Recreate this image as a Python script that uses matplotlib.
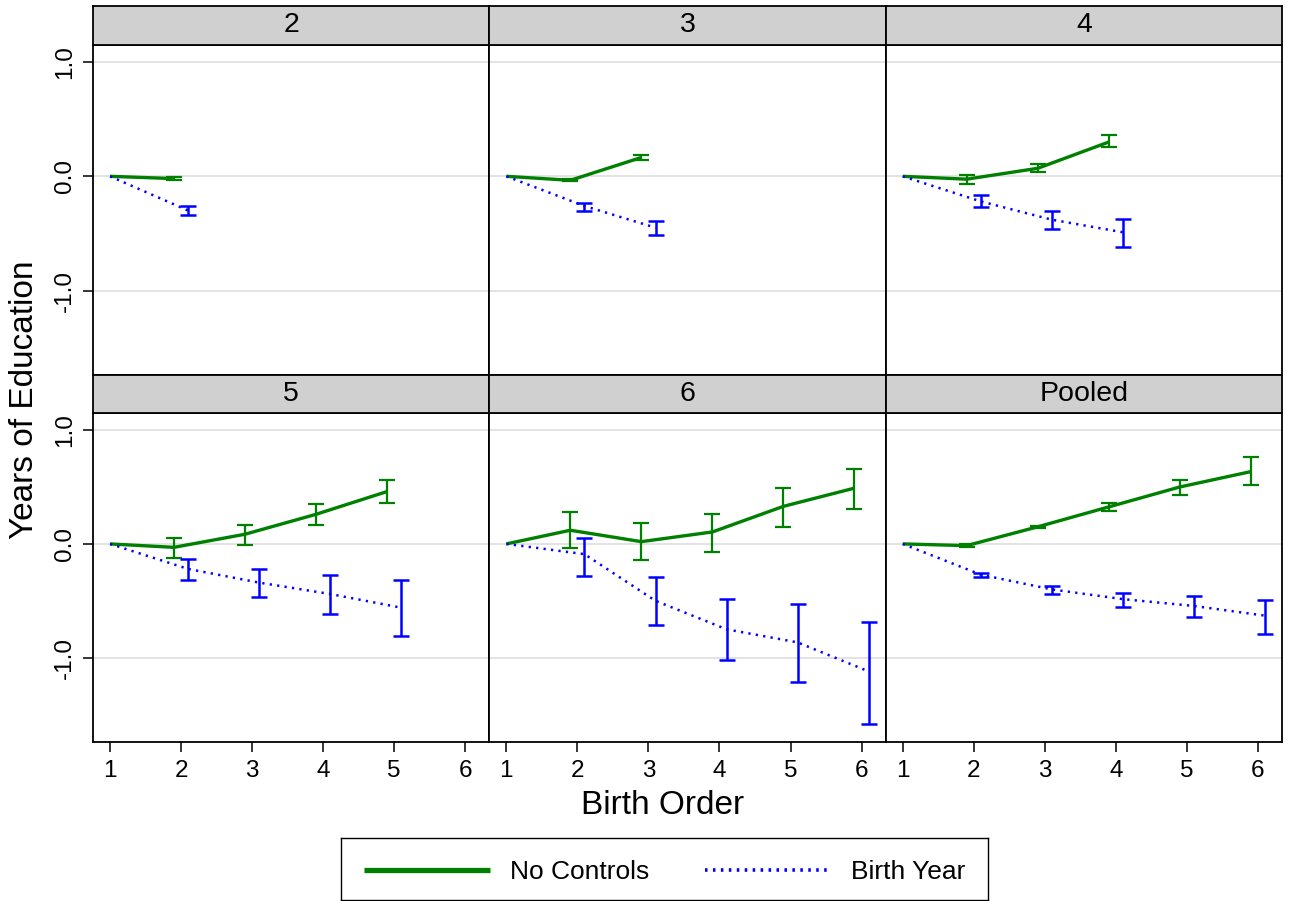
import matplotlib
matplotlib.use("Agg")
import matplotlib.pyplot as plt
from matplotlib.lines import Line2D

plt.rcParams['font.family'] = ['Liberation Sans', 'DejaVu Sans']

# ---------------- data ----------------
birth_order = [1, 2, 3, 4, 5, 6]
panel_titles = ["2", "3", "4", "5", "6", "Pooled"]
x_ticks = [1, 2, 3, 4, 5, 6]
y_ticks = [-1.0, 0.0, 1.0]
y_tick_labels = ["-1.0", "0.0", "1.0"]
series_labels = ["No Controls", "Birth Year"]

# No Controls (estimate, lower CI, upper CI)
nc_est = [
    [0, -0.02],
    [0, -0.035, 0.165],
    [0, -0.025, 0.07, 0.30],
    [0, -0.03, 0.085, 0.26, 0.46],
    [0, 0.12, 0.02, 0.105, 0.33, 0.49],
    [0, -0.015, 0.15, 0.325, 0.50, 0.635],
]
nc_lo = [
    [0, -0.03],
    [0, -0.045, 0.14],
    [0, -0.065, 0.035, 0.26],
    [0, -0.12, -0.01, 0.17, 0.36],
    [0, -0.04, -0.14, -0.07, 0.15, 0.31],
    [0, -0.025, 0.14, 0.29, 0.43, 0.515],
]
nc_hi = [
    [0, -0.01],
    [0, -0.025, 0.19],
    [0, 0.015, 0.11, 0.36],
    [0, 0.05, 0.17, 0.35, 0.56],
    [0, 0.28, 0.18, 0.26, 0.49, 0.66],
    [0, -0.005, 0.16, 0.36, 0.56, 0.76],
]
# Birth Year controls
by_est = [
    [0, -0.30],
    [0, -0.26, -0.45],
    [0, -0.22, -0.38, -0.49],
    [0, -0.22, -0.34, -0.44, -0.56],
    [0, -0.09, -0.50, -0.75, -0.865, -1.12],
    [0, -0.27, -0.40, -0.485, -0.545, -0.63],
]
by_lo = [
    [0, -0.34],
    [0, -0.30, -0.51],
    [0, -0.27, -0.46, -0.62],
    [0, -0.32, -0.47, -0.62, -0.81],
    [0, -0.28, -0.71, -1.02, -1.21, -1.58],
    [0, -0.29, -0.44, -0.55, -0.64, -0.79],
]
by_hi = [
    [0, -0.26],
    [0, -0.23, -0.39],
    [0, -0.165, -0.30, -0.375],
    [0, -0.13, -0.22, -0.27, -0.32],
    [0, 0.05, -0.29, -0.48, -0.53, -0.69],
    [0, -0.255, -0.37, -0.43, -0.46, -0.49],
]

# ---------------- style ----------------
W, H = 1290, 901
GREEN = "#008000"
BLUE = "#0000ff"
STRIP = "#d0d0d0"
GRID = "#e0e0e0"
OFFSET = 0.1
BLUE_DOTS = (0, (0.9, 2.1))

fig = plt.figure(figsize=(W / 100, H / 100), dpi=100)

col_edges = [93, 489.3, 885.7, 1282]
rows = [(6, 45, 375), (375, 413, 742)]  # strip top, plot top, plot bottom


def fr(x0, y0, x1, y1):
    return [x0 / W, 1 - y1 / H, (x1 - x0) / W, (y1 - y0) / H]


for i, title in enumerate(panel_titles):
    r, c = divmod(i, 3)
    st, pt, pb = rows[r]
    x0, x1 = col_edges[c], col_edges[c + 1]
    ax = fig.add_axes(fr(x0, pt, x1, pb))
    sax = fig.add_axes(fr(x0, st, x1, pt))

    # strip
    sax.set_facecolor(STRIP)
    sax.set_xticks([])
    sax.set_yticks([])
    for s in sax.spines.values():
        s.set_linewidth(1.3)
        s.set_color("black")
    sax.text(0.5, 0.5, title, ha="center", va="center", fontsize=20.5,
             transform=sax.transAxes)

    n = len(nc_est[i])
    xs = birth_order[:n]
    xg = [v if v == 1 else v - OFFSET for v in xs]
    xb = [v if v == 1 else v + OFFSET for v in xs]

    ax.set_xlim(0.76, 6.34)
    ax.set_ylim(-1.74, 1.15)
    for yv in y_ticks:
        ax.axhline(yv, color=GRID, lw=1.3, zorder=0)

    # No Controls
    ax.plot(xg, nc_est[i], color=GREEN, lw=2.4, solid_capstyle="butt", zorder=3)
    ax.errorbar(xg[1:], nc_est[i][1:],
                yerr=[[e - l for e, l in zip(nc_est[i][1:], nc_lo[i][1:])],
                      [h - e for e, h in zip(nc_est[i][1:], nc_hi[i][1:])]],
                fmt="none", ecolor=GREEN, elinewidth=1.6, capsize=6,
                capthick=1.6, zorder=3)
    # Birth Year
    ax.plot(xb, by_est[i], color=BLUE, lw=1.8, linestyle=BLUE_DOTS, zorder=3)
    ax.errorbar(xb[1:], by_est[i][1:],
                yerr=[[e - l for e, l in zip(by_est[i][1:], by_lo[i][1:])],
                      [h - e for e, h in zip(by_est[i][1:], by_hi[i][1:])]],
                fmt="none", ecolor=BLUE, elinewidth=1.8, capsize=6,
                capthick=1.8, zorder=3)

    for s in ax.spines.values():
        s.set_linewidth(1.3)
        s.set_color("black")

    ax.tick_params(direction="out", length=7, width=1.1, labelsize=17.5)
    if c == 0:
        ax.set_yticks(y_ticks)
        ax.set_yticklabels(y_tick_labels, rotation=90, va="center")
        ax.tick_params(axis="y", pad=5)
    else:
        ax.set_yticks([])
    if r == 1:
        ax.set_xticks(x_ticks)
        ax.set_xticklabels([str(v) for v in x_ticks])
        ax.tick_params(axis="x", pad=6)
    else:
        ax.set_xticks([])

fig.text(25 / W, 1 - 400 / H, "Years of Education", rotation=90,
         ha="center", va="center", fontsize=24)
fig.text(663 / W, 1 - 806 / H, "Birth Order", ha="center", va="center",
         fontsize=24)

# legend box
lax = fig.add_axes(fr(341, 838, 988, 899.5))
lax.set_xticks([])
lax.set_yticks([])
for s in lax.spines.values():
    s.set_linewidth(1.0)
    s.set_color("black")
handles = [Line2D([], [], color=GREEN, lw=3.8, solid_capstyle="butt"),
           Line2D([], [], color=BLUE, lw=2.6, linestyle=(0, (0.7, 1.5)))]
leg = lax.legend(handles, series_labels, loc="center", ncol=2, frameon=False,
                 fontsize=19, handlelength=4.8, handletextpad=0.75,
                 columnspacing=2.1, borderaxespad=0,
                 bbox_to_anchor=(0.5, 0.44))

fig.savefig("out.png", dpi=100)
